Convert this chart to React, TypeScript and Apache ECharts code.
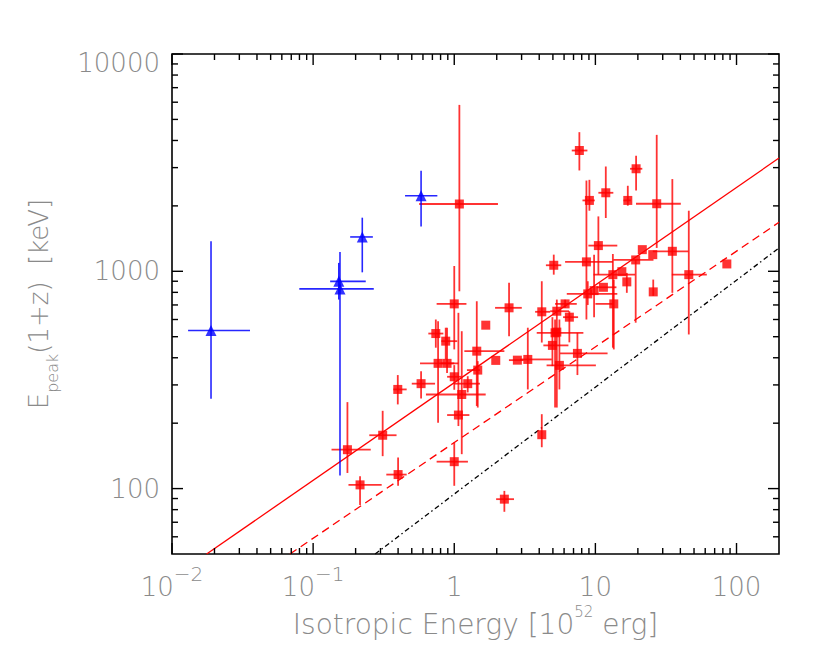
import React, { useEffect, useRef } from "react";
import * as echarts from "echarts";

const X_MIN = 0.01;
const X_MAX = 200;
const Y_MIN = 50;
const Y_MAX = 10000;

// [E_iso, Epeak(1+z), E_lo, E_hi, Ep_lo, Ep_hi]
const redPoints: number[][] = [
  [0.175, 151, 0.135, 0.256, 118, 250],
  [0.215, 104, 0.178, 0.306, 84, 114],
  [0.311, 176, 0.25, 0.39, 141, 228],
  [0.398, 286, 0.37, 0.46, 244, 333],
  [0.4, 116, 0.33, 0.46, 103, 139],
  [0.582, 304, 0.5, 0.731, 260, 347],
  [0.74, 517, 0.655, 0.837, 445, 600],
  [0.768, 377, 0.572, 1.07, 201, 589],
  [0.87, 477, 0.81, 1.05, 393, 550],
  [0.889, 377, 0.8, 1.0, 340, 550],
  [1.0, 708, 0.75, 1.22, 437, 1058],
  [1.0, 327, 0.89, 1.12, 285, 370],
  [1.0, 133, 0.75, 1.25, 103, 163],
  [1.07, 218, 0.89, 1.28, 194, 644],
  [1.087, 2040, 0.564, 2.04, 809, 5832],
  [1.13, 271, 0.63, 1.67, 144, 530],
  [1.246, 304, 1.0, 1.52, 277, 329],
  [1.444, 429, 1.179, 2.265, 240, 728],
  [1.467, 351, 1.23, 1.52, 236, 386],
  [1.672, 565, 1.672, 1.672, 565, 565],
  [1.968, 389, 1.968, 1.968, 389, 389],
  [2.265, 89.4, 1.98, 2.65, 78.2, 97.6],
  [2.445, 679, 1.946, 3.01, 503, 885],
  [2.8, 390, 2.44, 3.1, 390, 390],
  [3.32, 393, 2.93, 4.91, 286, 550],
  [4.17, 651, 3.74, 4.78, 470, 900],
  [4.17, 177, 4.17, 4.17, 155, 220],
  [4.96, 456, 4.28, 6.44, 366, 615],
  [5.07, 1066, 4.46, 5.73, 965, 1193],
  [5.18, 521, 3.84, 8.22, 236, 600],
  [5.33, 525, 5.33, 5.33, 525, 525],
  [5.33, 655, 4.78, 6.5, 236, 741],
  [5.56, 369, 4.51, 10.08, 286, 600],
  [6.1, 708, 5.18, 7.38, 680, 740],
  [6.54, 615, 5.9, 7.54, 471, 655],
  [7.46, 419, 5.62, 12.2, 333, 521],
  [7.7, 3596, 6.8, 8.78, 2911, 4368],
  [8.64, 1105, 6.1, 13.3, 600, 2616],
  [8.83, 787, 6.27, 14.3, 700, 900],
  [9.07, 2119, 8.1, 9.9, 1900, 2636],
  [9.79, 815, 9.79, 9.79, 615, 1193],
  [10.5, 1313, 8.92, 14.3, 965, 1789],
  [11.4, 844, 10.2, 14.1, 844, 844],
  [11.85, 2298, 10.5, 13.4, 1759, 3036],
  [13.3, 965, 9.7, 19.1, 445, 1201],
  [13.5, 708, 10.0, 13.5, 437, 916],
  [15.4, 996, 15.4, 15.4, 996, 996],
  [16.7, 894, 16.7, 16.7, 796, 983],
  [16.97, 2119, 15.8, 17.8, 2004, 2475],
  [19.3, 1128, 13.4, 25.8, 580, 1128],
  [19.43, 2964, 17.6, 21.5, 2355, 3401],
  [21.5, 1258, 21.5, 21.5, 1258, 1258],
  [25.5, 1193, 25.5, 25.5, 1193, 1193],
  [25.7, 804, 25.7, 25.7, 771, 916],
  [27.2, 2046, 19.4, 40.3, 1281, 4245],
  [35.1, 1236, 25.5, 45.6, 796, 2657],
  [45.9, 965, 34.8, 61.6, 512, 1900],
  [85.4, 1081, 85.4, 85.4, 1081, 1081],
];

const bluePoints: number[][] = [
  [0.0189, 534, 0.013, 0.0357, 259, 1374],
  [0.152, 899, 0.132, 0.236, 741, 1093],
  [0.155, 830, 0.0798, 0.269, 115, 1228],
  [0.223, 1439, 0.183, 0.265, 989, 1765],
  [0.582, 2227, 0.448, 0.759, 1609, 2901],
];

const solidFit = [
  [0.0176, 50],
  [200, 3320],
];
const dashedFit = [
  [0.0685, 50],
  [200, 1680],
];
const dashDotFit = [
  [0.275, 50],
  [200, 1280],
];

const xMajorTicks = [0.01, 0.1, 1, 10, 100];
const xTickBase = ["10", "10", "1", "10", "100"];
const xTickSup = ["\u22122", "\u22121", "", "", ""];
const yMajorTicks = [100, 1000, 10000];
const yTickLabels = ["100", "1000", "10000"];
const minorMultipliers = [2, 3, 4, 5, 6, 7, 8, 9];
const xDecades = [0.01, 0.1, 1, 10, 100];
const yDecades = [10, 100, 1000];

const TEXT = "#8a8a8a";
const FONT = "DejaVu Sans";
const WEIGHT = 200;

function matchTick(v: number, ticks: number[]): number {
  for (let i = 0; i < ticks.length; i++) {
    if (Math.abs(Math.log10(v) - Math.log10(ticks[i])) < 1e-6) return i;
  }
  return -1;
}

const txt = (size: number, extra: any = {}) => ({
  fontSize: size,
  color: TEXT,
  fontFamily: FONT,
  fontWeight: WEIGHT,
  ...extra,
});

export default function App() {
  const ref = useRef<HTMLDivElement>(null);

  useEffect(() => {
    if (!ref.current) return;
    const chart = echarts.init(ref.current, undefined, { renderer: "svg" });

    const MAJOR = 11;
    const MINOR = 6;
    const xTickData: number[][] = [];
    xMajorTicks.forEach((v) => xTickData.push([v, Y_MIN, MAJOR]));
    xDecades.forEach((d) =>
      minorMultipliers.forEach((m) => {
        const v = d * m;
        if (v > X_MIN && v < X_MAX) xTickData.push([v, Y_MIN, MINOR]);
      })
    );
    const yTickData: number[][] = [];
    yMajorTicks.forEach((v) => yTickData.push([X_MIN, v, MAJOR]));
    yDecades.forEach((d) =>
      minorMultipliers.forEach((m) => {
        const v = d * m;
        if (v > Y_MIN && v < Y_MAX) yTickData.push([X_MIN, v, MINOR]);
      })
    );

    const tickStyle = { stroke: "#000", lineWidth: 1.4 };

    const errRender = (color: string, width: number) => (params: any, api: any) => {
      const x = api.value(0);
      const y = api.value(1);
      const l = api.coord([api.value(2), y]);
      const r = api.coord([api.value(3), y]);
      const b = api.coord([x, api.value(4)]);
      const t = api.coord([x, api.value(5)]);
      const children: any[] = [];
      if (Math.abs(r[0] - l[0]) > 0.5)
        children.push({
          type: "line",
          shape: { x1: l[0], y1: l[1], x2: r[0], y2: r[1] },
          style: { stroke: color, lineWidth: width },
        });
      if (Math.abs(b[1] - t[1]) > 0.5)
        children.push({
          type: "line",
          shape: { x1: b[0], y1: b[1], x2: t[0], y2: t[1] },
          style: { stroke: color, lineWidth: width },
        });
      return { type: "group", children };
    };

    chart.setOption({
      animation: false,
      backgroundColor: "#ffffff",
      grid: {
        left: 172,
        top: 54,
        width: 607,
        height: 500,
        show: true,
        borderColor: "#000",
        borderWidth: 1.6,
        backgroundColor: "transparent",
      },
      xAxis: {
        type: "log",
        logBase: 10,
        min: X_MIN,
        max: X_MAX,
        axisLine: { show: false },
        axisTick: { show: false },
        splitLine: { show: false },
        axisLabel: {
          margin: 10,
          ...txt(26),
          formatter: (v: number) => {
            const i = matchTick(v, xMajorTicks);
            if (i < 0) return "";
            return xTickSup[i]
              ? `{b|${xTickBase[i]}}{s|${xTickSup[i]}}`
              : `{b|${xTickBase[i]}}`;
          },
          rich: {
            b: txt(26, { lineHeight: 36, verticalAlign: "bottom" }),
            s: txt(20, { verticalAlign: "top" }),
          },
        },
        name: "{b|Isotropic Energy [10}{s|52}{b| erg]}",
        nameLocation: "middle",
        nameGap: 50,
        nameTextStyle: {
          ...txt(28),
          rich: {
            b: txt(28, { lineHeight: 34, verticalAlign: "bottom" }),
            s: txt(15, { verticalAlign: "top" }),
          },
        },
      },
      yAxis: {
        type: "log",
        logBase: 10,
        min: Y_MIN,
        max: Y_MAX,
        axisLine: { show: false },
        axisTick: { show: false },
        splitLine: { show: false },
        axisLabel: {
          margin: 12,
          ...txt(26),
          formatter: (v: number) => {
            const i = matchTick(v, yMajorTicks);
            if (i < 0) return "";
            if (i === yMajorTicks.length - 1) return `{t|${yTickLabels[i]}}`;
            return yTickLabels[i];
          },
          rich: {
            t: txt(26, { padding: [18, 0, 0, 0] }),
          },
        },
        name: "{b|E}{s|peak}{b|(1+z)  [keV]}",
        nameLocation: "middle",
        nameRotate: 90,
        nameGap: 112,
        nameTextStyle: {
          ...txt(26),
          rich: {
            b: txt(26, { lineHeight: 34, verticalAlign: "top" }),
            s: txt(16, { verticalAlign: "bottom" }),
          },
        },
      },
      series: [
        {
          type: "custom",
          name: "xticks",
          silent: true,
          clip: false,
          dimensions: ["v", "y", "len"],
          encode: { x: 0, y: 1 },
          data: xTickData,
          z: 5,
          renderItem: (params: any, api: any) => {
            const cs = params.coordSys;
            const x = api.coord([api.value(0), Y_MIN])[0];
            const len = api.value(2);
            const yb = cs.y + cs.height;
            const yt = cs.y;
            return {
              type: "group",
              children: [
                { type: "line", shape: { x1: x, y1: yb, x2: x, y2: yb - len }, style: tickStyle },
                { type: "line", shape: { x1: x, y1: yt, x2: x, y2: yt + len }, style: tickStyle },
              ],
            };
          },
        },
        {
          type: "custom",
          name: "yticks",
          silent: true,
          clip: false,
          dimensions: ["x", "v", "len"],
          encode: { x: 0, y: 1 },
          data: yTickData,
          z: 5,
          renderItem: (params: any, api: any) => {
            const cs = params.coordSys;
            const y = api.coord([X_MIN, api.value(1)])[1];
            const len = api.value(2);
            const xl = cs.x;
            const xr = cs.x + cs.width;
            return {
              type: "group",
              children: [
                { type: "line", shape: { x1: xl, y1: y, x2: xl + len, y2: y }, style: tickStyle },
                { type: "line", shape: { x1: xr, y1: y, x2: xr - len, y2: y }, style: tickStyle },
              ],
            };
          },
        },
        {
          type: "line",
          data: solidFit,
          showSymbol: false,
          silent: true,
          lineStyle: { color: "#ff0000", width: 1.3, type: "solid" },
          z: 2,
        },
        {
          type: "line",
          data: dashedFit,
          showSymbol: false,
          silent: true,
          lineStyle: { color: "#ff0000", width: 1.3, type: [8, 5] },
          z: 2,
        },
        {
          type: "line",
          data: dashDotFit,
          showSymbol: false,
          silent: true,
          lineStyle: { color: "#000000", width: 1.3, type: [5, 3, 1.5, 3] },
          z: 2,
        },
        {
          type: "custom",
          name: "redErr",
          silent: true,
          dimensions: ["x", "y", "xlo", "xhi", "ylo", "yhi"],
          encode: { x: 0, y: 1 },
          data: redPoints,
          z: 3,
          renderItem: errRender("rgba(255,0,0,0.8)", 1.8),
        },
        {
          type: "custom",
          name: "blueErr",
          silent: true,
          dimensions: ["x", "y", "xlo", "xhi", "ylo", "yhi"],
          encode: { x: 0, y: 1 },
          data: bluePoints,
          z: 3,
          renderItem: errRender("rgba(0,0,255,0.85)", 1.6),
        },
        {
          type: "scatter",
          silent: true,
          data: redPoints.map((p) => [p[0], p[1]]),
          symbol: "rect",
          symbolSize: 9,
          itemStyle: { color: "#ff0000" },
          z: 4,
        },
        {
          type: "scatter",
          silent: true,
          data: bluePoints.map((p) => [p[0], p[1]]),
          symbol: "triangle",
          symbolSize: 11,
          itemStyle: { color: "#0000ff" },
          z: 4,
        },
      ],
    });

    return () => chart.dispose();
  }, []);

  return (
    <div
      ref={ref}
      style={{ position: "fixed", left: 0, top: 0, width: 830, height: 664, background: "#fff" }}
    />
  );
}
